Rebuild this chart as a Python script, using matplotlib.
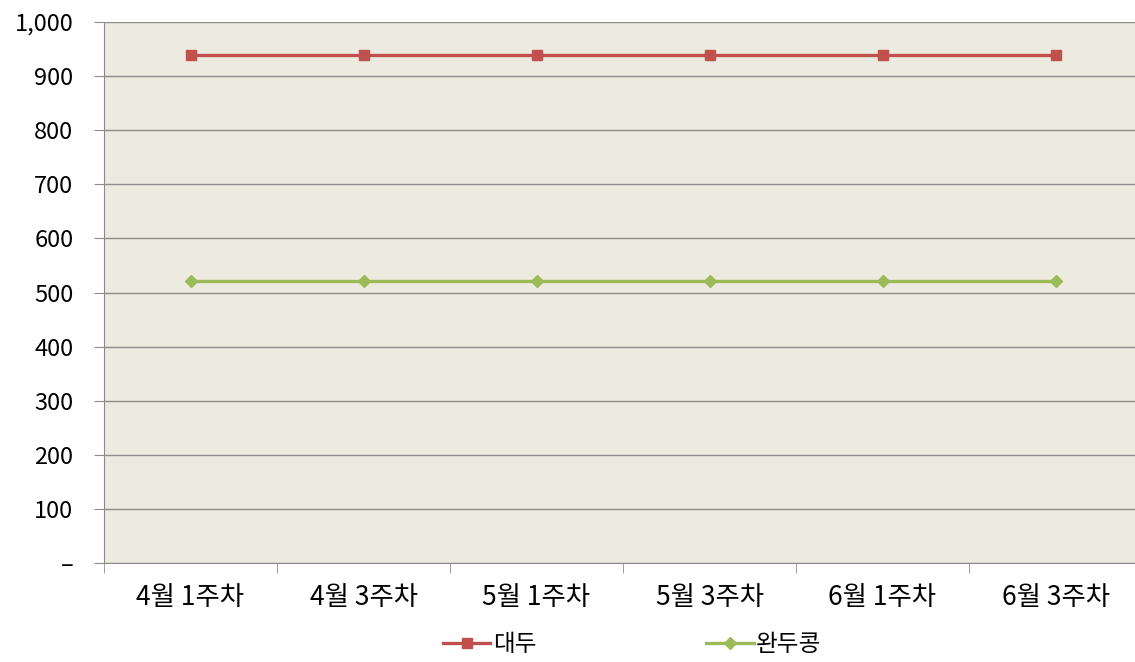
import numpy as np
import matplotlib.pyplot as plt
from matplotlib.ticker import FuncFormatter, FixedLocator

plt.rcParams['font.family'] = ['Noto Sans CJK KR', 'DejaVu Sans']

weeks = ['4월 1주차', '4월 3주차', '5월 1주차', '5월 3주차', '6월 1주차', '6월 3주차']
soybean = [939, 939, 939, 939, 939, 939]
pea = [521, 521, 521, 521, 521, 521]

fig = plt.figure(figsize=(11.35, 6.62), dpi=100)
ax = fig.add_axes([104/1135, (662-563)/662, 1038/1135, 541/662])
ax.set_facecolor('#EDEBE0')

x = np.arange(len(weeks))
ax.plot(x, soybean, color='#C0504D', lw=2.4, marker='s', ms=7, label='대두')
ax.plot(x, pea, color='#9BBB59', lw=2.4, marker='D', ms=6.5, label='완두콩')

ax.set_xlim(-0.5, len(weeks) - 0.5)
ax.set_ylim(0, 1000)
ax.set_yticks(np.arange(0, 1001, 100))
ax.yaxis.set_major_formatter(FuncFormatter(lambda v, p: '–' if v == 0 else f'{int(v):,}'))
ax.grid(axis='y', color='#8C8C8C', lw=1)
ax.set_axisbelow(True)

ax.set_xticks(x)
ax.set_xticklabels(weeks)
ax.xaxis.set_minor_locator(FixedLocator(np.arange(-0.5, len(weeks), 1)))
ax.tick_params(axis='x', which='major', length=0, pad=15, labelsize=19)
ax.tick_params(axis='x', which='minor', length=7, color='#8C8C8C', direction='out')
ax.tick_params(axis='y', length=7, color='#8C8C8C', direction='out', pad=15, labelsize=17)

for s in ['top', 'right']:
    ax.spines[s].set_visible(False)
for s in ['left', 'bottom']:
    ax.spines[s].set_color('#8C8C8C')

fig.legend(loc='center', bbox_to_anchor=(0.557, 0.026), ncol=2, frameon=False,
           fontsize=17, columnspacing=7.2, handlelength=2.0, handletextpad=0.1)

fig.savefig('out.png', dpi=100)
